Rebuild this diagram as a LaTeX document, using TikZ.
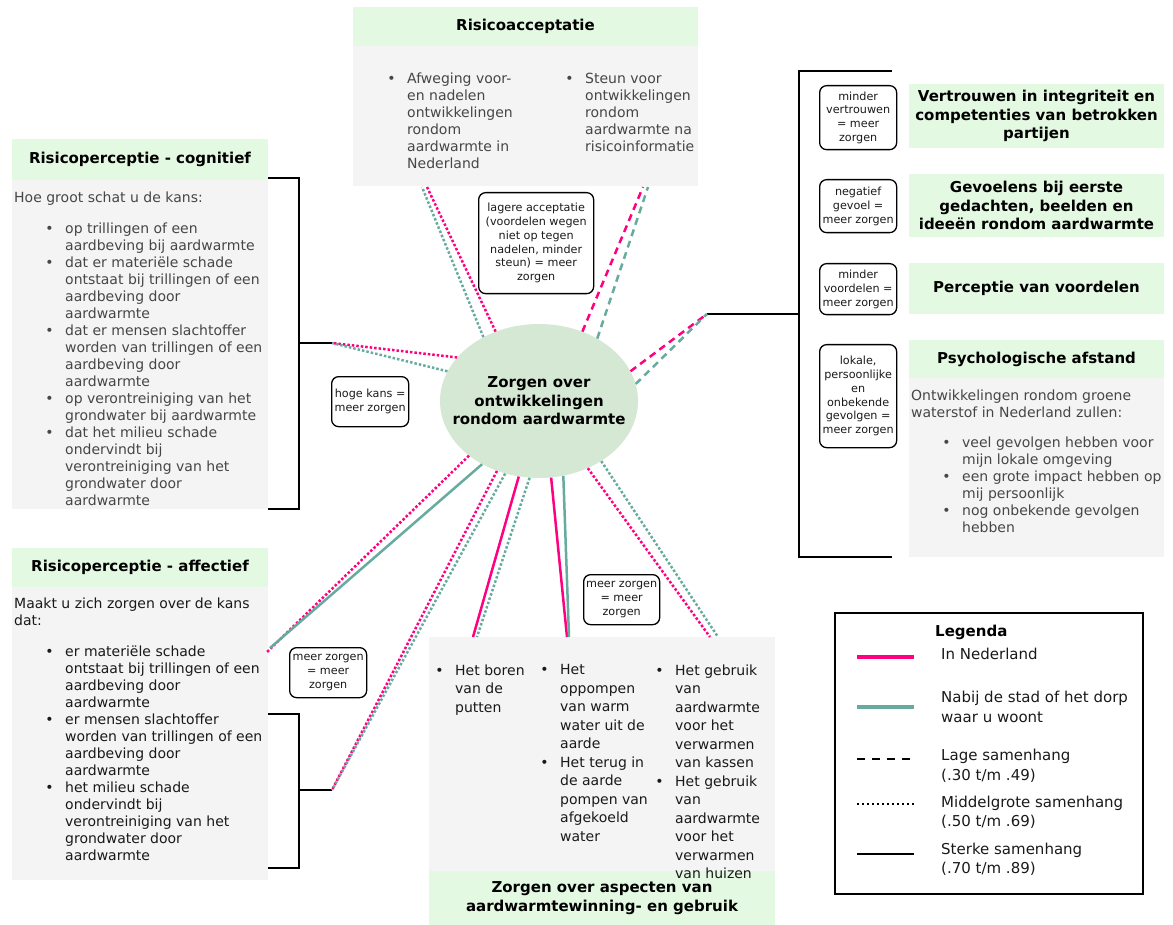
\documentclass[tikz,border=0pt]{standalone}
\usepackage{fontspec}
\setmainfont{DejaVu Sans}
\usetikzlibrary{positioning,shapes.geometric}
\definecolor{nlpink}{RGB}{255,0,128}
\definecolor{buurtteal}{RGB}{103,171,159}
\definecolor{hdrgreen}{RGB}{228,249,226}
\definecolor{bodygrey}{RGB}{244,244,244}
\definecolor{ovalgreen}{RGB}{213,232,212}
\definecolor{txtgrey}{RGB}{70,70,70}
\definecolor{txtdark}{RGB}{25,25,25}
\newcommand\txtfont{\fontsize{14}{17}\selectfont}
\newcommand\botfont{\fontsize{14}{18.5}\selectfont}
\newcommand\hdrfont{\bfseries\fontsize{15}{18.5}\selectfont}
\newcommand\lblfont{\fontsize{11.2}{13.8}\selectfont}
\newcommand\legfont{\fontsize{15}{19.5}\selectfont}
\newcommand\bul{\llap{\textbullet\hspace{11.5pt}}}

\begin{document}
\begin{tikzpicture}[x=1pt, y=-1pt,
    hdr/.style={fill=hdrgreen, font=\hdrfont, align=center, inner sep=0pt, outer sep=0pt},
    bodybox/.style={fill=bodygrey, inner sep=0pt, outer sep=0pt},
    txt/.style={font=\txtfont, align=left, inner sep=0pt, anchor=north west},
    lbl/.style={draw, line width=1.3pt, rounded corners=7pt, font=\lblfont, text=txtdark, align=center, inner sep=0pt, anchor=north west},
    legtxt/.style={font=\legfont, text=txtdark, align=left, inner sep=0pt, anchor=west},
    nl/.style={nlpink, line width=2.5pt},
    buurt/.style={buurtteal, line width=2.5pt},
    laag/.style={dash pattern=on 7pt off 5pt},
    mid/.style={dash pattern=on 2.5pt off 2pt},
    brack/.style={line width=2.3pt}]
    \useasboundingbox (0,0) rectangle (1173,925);

    \node[hdr, anchor=north west, minimum width=345pt, minimum height=39pt] (acchdr) at (353,7) {Risicoacceptatie};
    \node[bodybox, below=0pt of acchdr, minimum width=345pt, minimum height=140pt] (accbody) {};
    \node[hdr, anchor=north west, minimum width=256pt, minimum height=41pt] (coghdr) at (12,139) {Risicoperceptie - cognitief};
    \node[bodybox, below=0pt of coghdr, minimum width=256pt, minimum height=329pt] (cogbody) {};
    \node[hdr, anchor=north west, minimum width=256pt, minimum height=39pt] (affhdr) at (12,548) {Risicoperceptie - affectief};
    \node[bodybox, below=0pt of affhdr, minimum width=256pt, minimum height=293pt] (affbody) {};
    \node[hdr, anchor=north west, minimum width=255pt, minimum height=64pt] (vertrhdr) at (909,84) {Vertrouwen in integriteit en\\competenties van betrokken\\partijen};
    \node[hdr, anchor=north west, minimum width=255pt, minimum height=63pt] (gevoelhdr) at (909,174) {Gevoelens bij eerste\\gedachten, beelden en\\ideeën rondom aardwarmte};
    \node[hdr, anchor=north west, minimum width=255pt, minimum height=51pt] (voordhdr) at (909,263) {Perceptie van voordelen};
    \node[hdr, anchor=north west, minimum width=255pt, minimum height=38pt] (afsthdr) at (909,340) {Psychologische afstand};
    \node[bodybox, below=0pt of afsthdr, minimum width=255pt, minimum height=179pt] (afstbody) {};
    \node[bodybox, anchor=north west, minimum width=346pt, minimum height=234pt] (aspbody) at (429,637) {};
    \node[hdr, below=0pt of aspbody, minimum width=346pt, minimum height=54pt] (asphdr) {Zorgen over aspecten van\\aardwarmtewinning- en gebruik};

    \node[txt, text=txtgrey] (acclist1) at (407,72.5) {\bul Afweging voor-\\en nadelen\\ontwikkelingen\\rondom\\aardwarmte in\\Nederland};
    \node[txt, text=txtgrey] (acclist2) at (585,72.5) {\bul Steun voor\\ontwikkelingen\\rondom\\aardwarmte na\\risicoinformatie};
    \node[txt, text=txtgrey] (cogintro) at (14,191.5) {Hoe groot schat u de kans:};
    \node[txt, text=txtgrey] (coglist) at (65,222.5) {\bul op trillingen of een\\aardbeving bij aardwarmte\\
        \bul dat er materiële schade\\ontstaat bij trillingen of een\\aardbeving door\\aardwarmte\\
        \bul dat er mensen slachtoffer\\worden van trillingen of een\\aardbeving door\\aardwarmte\\
        \bul op verontreiniging van het\\grondwater bij aardwarmte\\
        \bul dat het milieu schade\\ondervindt bij\\verontreiniging van het\\grondwater door\\aardwarmte};
    \node[txt, text=txtdark] (affintro) at (14,597.5) {Maakt u zich zorgen over de kans\\dat:};
    \node[txt, text=txtdark] (afflist) at (65,645.5) {\bul er materiële schade\\ontstaat bij trillingen of een\\aardbeving door\\aardwarmte\\
        \bul er mensen slachtoffer\\worden van trillingen of een\\aardbeving door\\aardwarmte\\
        \bul het milieu schade\\ondervindt bij\\verontreiniging van het\\grondwater door\\aardwarmte};
    \node[txt, text=txtgrey] (afstintro) at (911,389.5) {Ontwikkelingen rondom groene\\waterstof in Nederland zullen:};
    \node[txt, text=txtgrey] (afstlist) at (962,436.5) {\bul veel gevolgen hebben voor\\mijn lokale omgeving\\
        \bul een grote impact hebben op\\mij persoonlijk\\
        \bul nog onbekende gevolgen\\hebben};
    \node[txt, font=\botfont, text=txtdark] (asplist1) at (455,664.5) {\bul Het boren\\van de\\putten};
    \node[txt, font=\botfont, text=txtdark] (asplist2) at (560,664.5) {\bul Het\\oppompen\\van warm\\water uit de\\aarde\\
        \bul Het terug in\\de aarde\\pompen van\\afgekoeld\\water};
    \node[txt, font=\botfont, text=txtdark] (asplist3) at (675,664.5) {\bul Het gebruik\\van\\aardwarmte\\voor het\\verwarmen\\van kassen\\
        \bul Het gebruik\\van\\aardwarmte\\voor het\\verwarmen\\van huizen};

    \node[ellipse, fill=ovalgreen, minimum width=198pt, minimum height=154pt, inner sep=0pt] (zorg) at (539,401) {};
    \node[font=\hdrfont, align=center, inner sep=0pt] (zorgtxt) at (zorg) {Zorgen over\\ontwikkelingen\\rondom aardwarmte};

    \coordinate (accLp) at (427,187);
    \coordinate (accLt) at (422,187);
    \coordinate (accRp) at (643,187);
    \coordinate (accRt) at (648,187);
    \coordinate (rjoin) at (707,314);
    \coordinate (rmid) at (799,314);
    \coordinate (cogjoin) at (332,343);
    \coordinate (cogmid) at (299,343);
    \coordinate (affp) at (267,652);
    \coordinate (afft) at (270,648);
    \coordinate (affjoin) at (332,790);
    \coordinate (affmid) at (299,790);
    \coordinate (bot1p) at (473,637);
    \coordinate (bot1t) at (477,637);
    \coordinate (bot2p) at (567,637);
    \coordinate (bot2t) at (569,637);
    \coordinate (bot3p) at (710,637);
    \coordinate (bot3t) at (718,637);

    \draw[brack] (892,71) -| (799,557) -- (892,557);
    \draw[brack] (rjoin) -- (rmid);
    \draw[brack] (268,178) -| (299,509) -- (268,509);
    \draw[brack] (cogjoin) -- (cogmid);
    \draw[brack] (268,714) -| (299,868) -- (268,868);
    \draw[brack] (affjoin) -- (affmid);

    \path[nl, mid]
        (zorg.122) edge (accLp)
        (zorg.152) edge (cogjoin)
        (zorg.218) edge (affp)
        (zorg.239) edge (affjoin)
        (zorg.306) edge (bot3p);
    \path[buurt, mid]
        (zorg.131) edge (accLt)
        (zorg.162) edge (cogjoin)
        (zorg.245) edge (affjoin)
        (zorg.263) edge (bot1t)
        (zorg.316) edge (bot3t);
    \path[nl, laag]
        (zorg.58) edge (accRp)
        (zorg.18) edge (rjoin);
    \path[buurt, laag]
        (zorg.47) edge (accRt)
        (zorg.10) edge (rjoin);
    \path[nl]
        (zorg.255) edge (bot1p)
        (zorg.279) edge (bot2p);
    \path[buurt]
        (zorg.228) edge (afft)
        (zorg.288) edge (bot2t);

    \node[lbl, minimum width=115pt, minimum height=101pt] (lacc) at (478,192) {lagere acceptatie\\(voordelen wegen\\niet op tegen\\nadelen, minder\\steun) = meer\\zorgen};
    \node[lbl, minimum width=77pt, minimum height=50pt] (lkans) at (331,376) {hoge kans =\\meer zorgen};
    \node[lbl, minimum width=77pt, minimum height=50pt] (lzorgaff) at (289,647) {meer zorgen\\= meer\\zorgen};
    \node[lbl, minimum width=76pt, minimum height=50pt] (lzorgasp) at (583,574) {meer zorgen\\= meer\\zorgen};
    \node[lbl, minimum width=77pt, minimum height=64pt] (lvertr) at (819,85) {minder\\vertrouwen\\= meer\\zorgen};
    \node[lbl, minimum width=77pt, minimum height=53pt] (lgevoel) at (819,179) {negatief\\gevoel =\\meer zorgen};
    \node[lbl, minimum width=77pt, minimum height=51pt] (lvoord) at (819,263) {minder\\voordelen =\\meer zorgen};
    \node[lbl, minimum width=77pt, minimum height=103pt] (lafst) at (819,344) {lokale,\\persoonlijke\\en\\onbekende\\gevolgen =\\meer zorgen};

    \node[draw, line width=1.5pt, inner sep=0pt, anchor=north west, minimum width=308pt, minimum height=281pt] (leg) at (834,612) {};
    \node[font=\bfseries\fontsize{15}{18}\selectfont, inner sep=0pt, anchor=west] (legtit) at (935,632) {Legenda};
    \node[legtxt] (lnl) at (941,654) {In Nederland};
    \node[legtxt] (lbuurt) at (941,707) {Nabij de stad of het dorp\\waar u woont};
    \node[legtxt] (llaag) at (941,766) {Lage samenhang\\(.30 t/m .49)};
    \node[legtxt] (lmid) at (941,812.5) {Middelgrote samenhang\\(.50 t/m .69)};
    \node[legtxt] (lsterk) at (941,859.5) {Sterke samenhang\\(.70 t/m .89)};
    \draw[nlpink, line width=4pt] ([xshift=-84pt, yshift=-3pt]lnl.west) -- ([xshift=-27pt, yshift=-3pt]lnl.west);
    \draw[buurtteal, line width=4pt] ([xshift=-84pt]lbuurt.west) -- ([xshift=-27pt]lbuurt.west);
    \draw[line width=2.5pt, dash pattern=on 8pt off 7pt] ([xshift=-84pt, yshift=7pt]llaag.west) -- ([xshift=-27pt, yshift=7pt]llaag.west);
    \draw[line width=2pt, dash pattern=on 2pt off 3pt] ([xshift=-84pt, yshift=8.5pt]lmid.west) -- ([xshift=-27pt, yshift=8.5pt]lmid.west);
    \draw[line width=2.5pt] ([xshift=-84pt, yshift=5.5pt]lsterk.west) -- ([xshift=-27pt, yshift=5.5pt]lsterk.west);
\end{tikzpicture}
\end{document}
